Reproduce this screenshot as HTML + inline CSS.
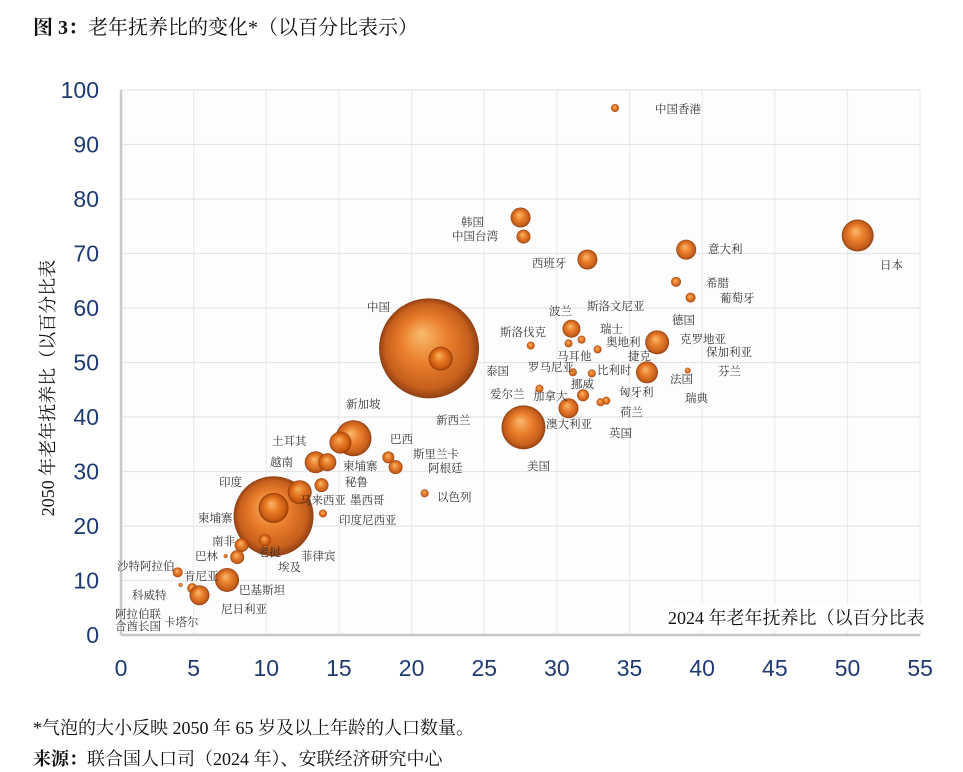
<!DOCTYPE html>
<html><head><meta charset="utf-8"><style>
body{margin:0;background:#fff;width:963px;height:772px;overflow:hidden;position:relative;font-family:"Liberation Serif","Noto Serif CJK SC",serif}
.t{position:absolute;white-space:nowrap}
#lbls div{position:absolute;font-size:11.5px;color:#333;white-space:nowrap;transform:translateY(-50%);font-family:"Liberation Serif","Noto Serif CJK SC",serif}
</style></head><body>
<div class="t" style="left:33px;top:11px;font-size:20px;color:#111"><b>图 3：</b>老年抚养比的变化*（以百分比表示）</div>
<svg id="chart" width="963" height="772" style="position:absolute;left:0;top:0">
<defs><radialGradient id="g" cx="50%" cy="50%" r="50%" fx="42%" fy="35%">
<stop offset="0" stop-color="#f8b866"/><stop offset="0.45" stop-color="#ea7a22"/><stop offset="0.85" stop-color="#c4560f"/><stop offset="1" stop-color="#8a3608"/></radialGradient></defs>
<g id="grid"></g><g id="bubbles"></g><g id="ticks"></g>
</svg>
<div id="lbls"></div>
<div class="t" style="left:47px;top:388px;font-size:18px;color:#111;transform:translate(-50%,-50%) rotate(-90deg)">2050 年老年抚养比（以百分比表</div>
<div class="t" style="left:666px;top:604px;font-size:18px;color:#111;background:#fff;padding:0 2px">2024 年老年抚养比（以百分比表</div>
<div class="t" style="left:33px;top:714px;font-size:18px;color:#111">*气泡的大小反映 2050 年 65 岁及以上年龄的人口数量。</div>
<div class="t" style="left:33px;top:745px;font-size:18px;color:#111"><b>来源：</b>联合国人口司（2024 年）、安联经济研究中心</div>
<script>
const xTicks=[0,5,10,15,20,25,30,35,40,45,50,55];
const yTicks=[0,10,20,30,40,50,60,70,80,90,100];
const xVals=[34.0,27.5,27.7,32.1,38.9,50.7,38.2,39.2,21.2,22.0,28.2,31.0,30.8,31.7,32.8,36.9,36.2,39.0,31.1,32.4,28.8,31.8,30.8,33.0,33.4,27.7,16.0,15.1,13.4,14.2,18.4,18.9,20.9,10.5,10.5,12.3,13.8,13.9,8.3,9.9,8.0,7.2,3.9,7.3,4.1,4.9,5.4];
const yVals=[96.7,76.6,73.1,68.9,70.7,73.3,64.8,61.9,52.6,50.7,53.1,56.2,53.5,54.2,52.4,53.7,48.2,48.5,48.2,48.0,45.2,44.0,41.6,42.7,43.0,38.1,36.1,35.3,31.7,31.7,32.6,30.8,26.0,21.8,23.3,26.2,27.5,22.3,16.5,17.4,14.3,14.5,11.5,10.1,9.2,8.6,7.3];
const sizes=[4,10,7,10,10,16,5,5,50,12,4,9,4,4,4,12,11,3,4,4,4,6,10,4,4,22,18,11,11,9,6,7,4,40,15,12,7,4,7,6,7,2,5,12,2,5,10];
const X=v=>121+v*14.53, Y=v=>635-v*5.45;
const NS="http://www.w3.org/2000/svg";
const grid=document.getElementById('grid'),tk=document.getElementById('ticks'),bb=document.getElementById('bubbles');
function mk(tag,attrs,parent){const e=document.createElementNS(NS,tag);for(const k in attrs)e.setAttribute(k,attrs[k]);parent.appendChild(e);return e;}
const bg=mk('rect',{x:X(0),y:Y(100),width:X(55)-X(0),height:Y(0)-Y(100),fill:'#fdfdfd'},grid);


xTicks.forEach(v=>{
 const l=mk('line',{x1:X(v),x2:X(v),y1:Y(100),y2:Y(0),stroke:'#ececec','stroke-width':1.2},grid);
 
 
 const t=mk('text',{x:X(v),y:676,'text-anchor':'middle','font-size':23,fill:'#1f3a72','font-family':'Liberation Sans, sans-serif'},tk);
 t.textContent=v;
 
 
});
yTicks.forEach(v=>{
 const l=mk('line',{x1:X(0),x2:X(55),y1:Y(v),y2:Y(v),stroke:'#e6e6e6','stroke-width':1.2},grid);
 
 
 const t=mk('text',{x:99,y:Y(v)+8,'text-anchor':'end','font-size':23,fill:'#1f3a72','font-family':'Liberation Sans, sans-serif'},tk);
 t.textContent=v;
 
 
});
const ya=mk('line',{x1:X(0),x2:X(0),y1:Y(100),y2:Y(0),stroke:'#c8c8c8','stroke-width':2.5},grid);


const xa=mk('line',{x1:X(0),x2:X(55),y1:Y(0),y2:Y(0),stroke:'#c8c8c8','stroke-width':2.5},grid);


xVals.forEach((v,i)=>{
 const c=mk('circle',{cx:X(v),cy:Y(yVals[i]),r:sizes[i],fill:'url(#g)','fill-opacity':0.95},bb);
 
 
});
const labels=[["中国香港",655,109],["韩国",461,222],["中国台湾",452,236],["西班牙",532,263],["意大利",708,249],["日本",880,265],["希腊",706,283],["葡萄牙",720,298],["中国",367,307],["斯洛文尼亚",587,306],["波兰",549,311],["德国",672,320],["瑞士",600,329],["斯洛伐克",500,332],["奥地利",606,342],["克罗地亚",680,339],["马耳他",557,356],["保加利亚",706,352],["捷克",628,356],["罗马尼亚",528,367],["比利时",597,370],["泰国",486,371],["芬兰",718,371],["法国",670,379],["挪威",571,384],["爱尔兰",490,394],["加拿大",533,396],["匈牙利",619,392],["瑞典",685,398],["新加坡",346,404],["荷兰",620,412],["新西兰",436,420],["澳大利亚",546,424],["英国",609,433],["土耳其",272,441],["巴西",390,439],["斯里兰卡",413,454],["越南",270,462],["柬埔寨",343,466],["美国",527,466],["阿根廷",428,468],["秘鲁",345,482],["印度",219,482],["以色列",437,497],["马来西亚",300,500],["墨西哥",350,500],["柬埔寨",198,518],["印度尼西亚",339,520],["南非",212,541],["巴林",195,556],["老挝",258,552],["菲律宾",301,556],["沙特阿拉伯",117,566],["埃及",278,567],["肯尼亚",184,576],["巴基斯坦",239,590],["科威特",132,595],["尼日利亚",221,609],["阿拉伯联",115,614],["合酋长国",115,626],["卡塔尔",164,622]];
const L=document.getElementById('lbls');
labels.forEach(a=>{const d=document.createElement('div');d.textContent=a[0];d.style.left=a[1]+'px';d.style.top=a[2]+'px';
 
 
 L.appendChild(d);});
</script>
</body></html>
